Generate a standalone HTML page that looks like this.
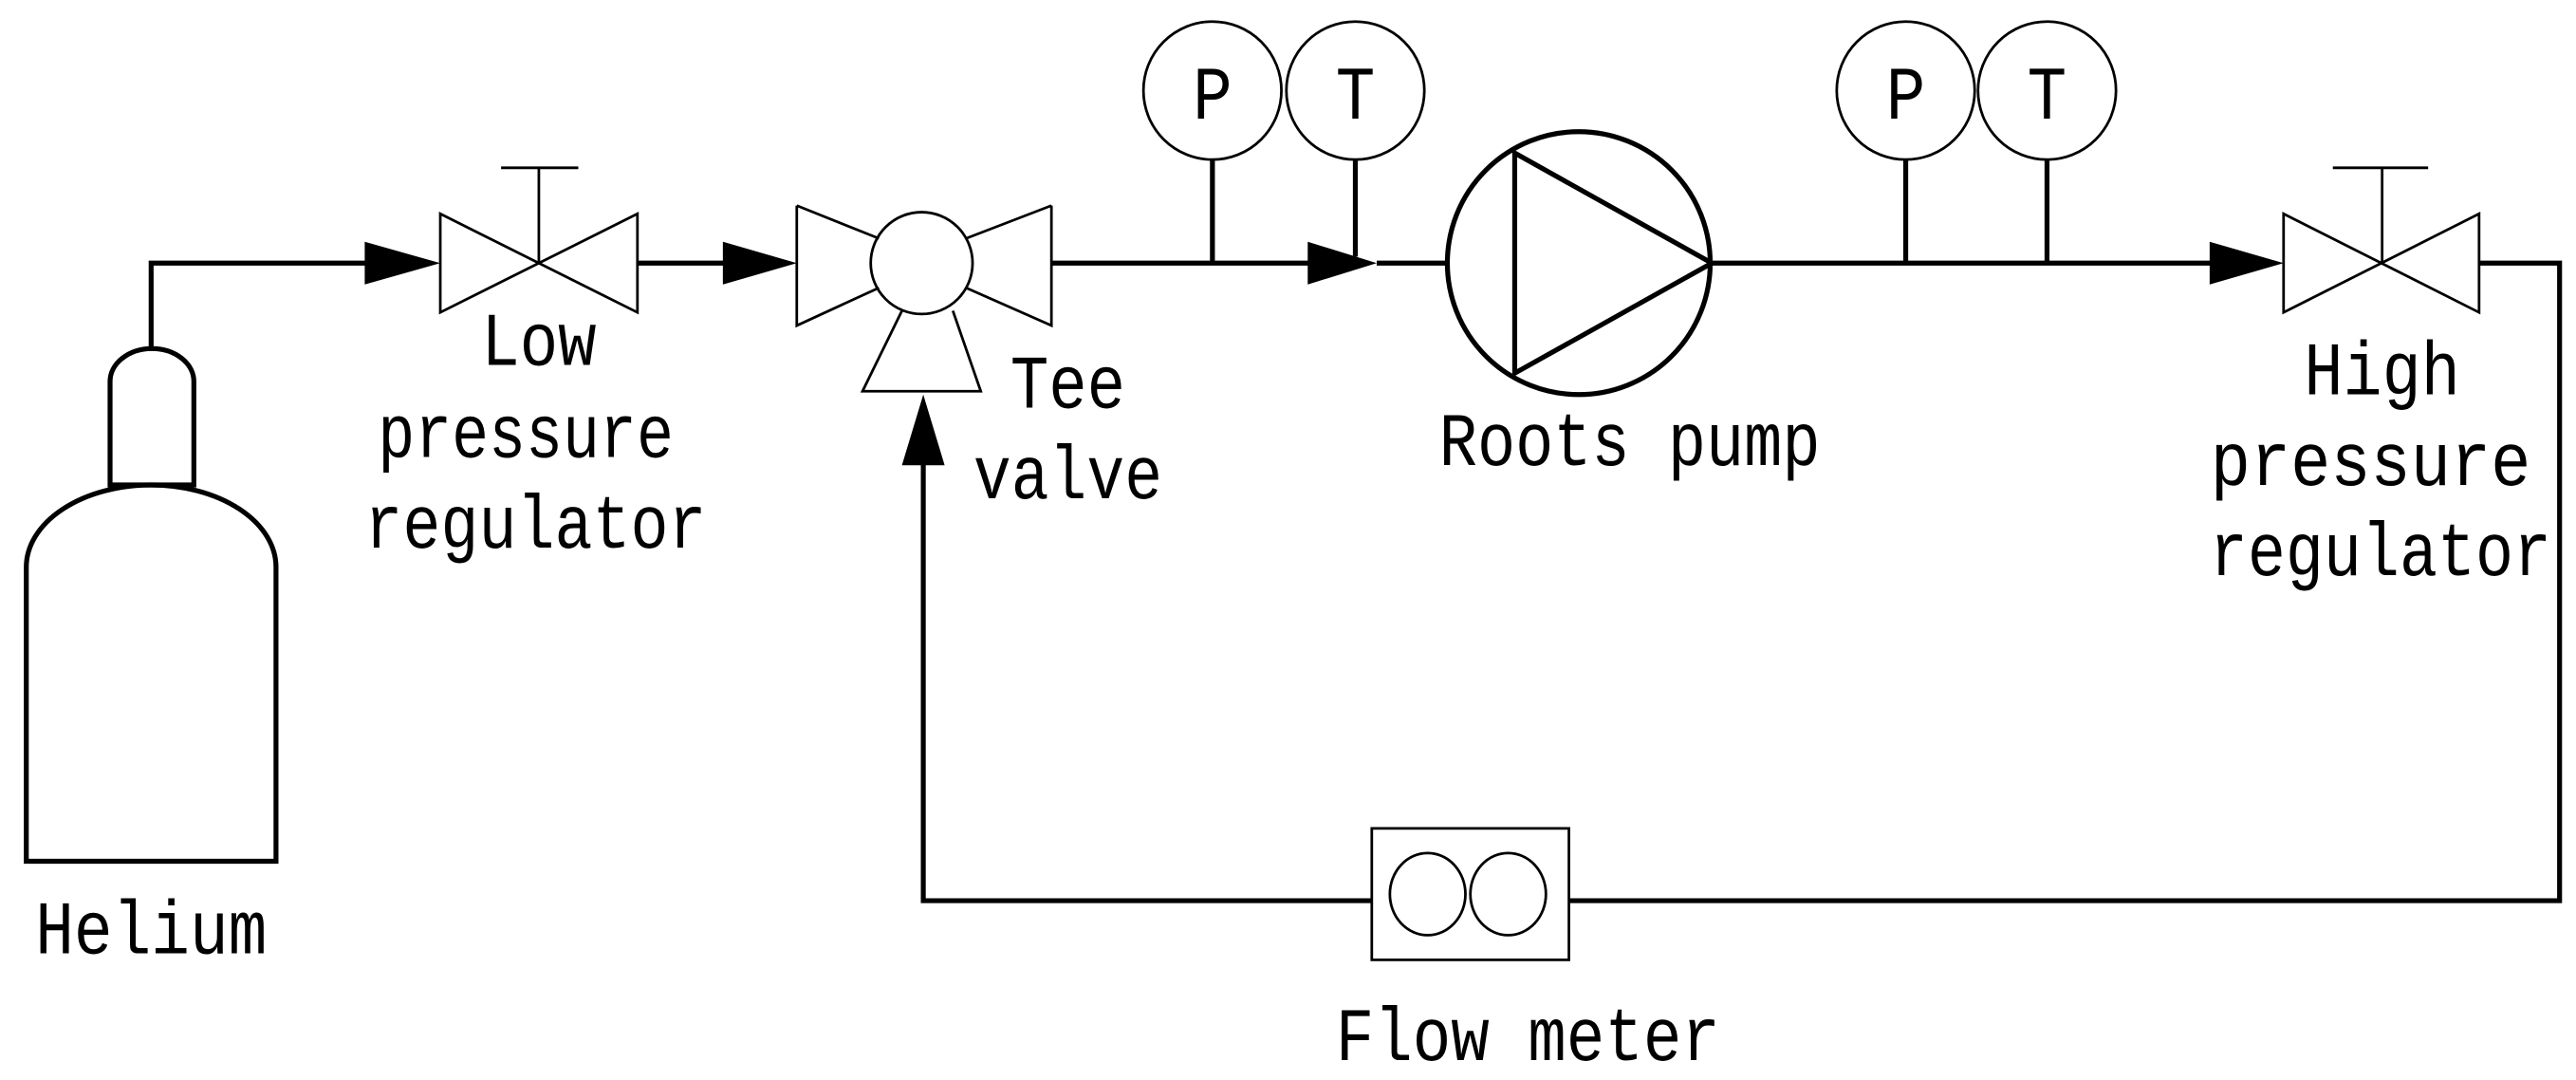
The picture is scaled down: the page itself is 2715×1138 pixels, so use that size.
<!DOCTYPE html>
<html><head><meta charset="utf-8"><style>html,body{margin:0;padding:0;background:#fff}svg{display:block}</style></head>
<body>
<svg width="2715" height="1138" viewBox="0 0 1568 657" xmlns="http://www.w3.org/2000/svg">
<g fill="none" stroke="#000" stroke-width="3">
<path d="M16,524 V345 A76,50 0 0 1 168,345 V524 Z"/>
<path d="M67,295 V232 A25.5,20 0 0 1 118,232 V295 Z"/>
<path d="M92,212 V160 H230"/>
<path d="M388,160 H445"/>
<path d="M640,160 H800"/>
<path d="M838,160 H880"/>
<path d="M1042,160 H1350"/>
<path d="M1509,160 H1558 V548 H955"/>
<path d="M835,548 H562 V280"/>
<path d="M738,97 V160 M825,97 V156 M1160,97 V160 M1246,97 V160"/>
<circle cx="961" cy="160" r="80"/>
<path d="M922,93 V227 L1042,160 Z"/>
</g>
<g fill="#000">
<path d="M222,147 L268,160 L222,173 Z"/>
<path d="M440,147 L485,160 L440,173 Z"/>
<path d="M796,147 L838,160 L796,173 Z"/>
<path d="M1345,147 L1390,160 L1345,173 Z"/>
<path d="M549,283 L562,240 L575,283 Z"/>
</g>
<g fill="none" stroke="#000" stroke-width="1.6">
<path d="M268,130 V190 L388,130 V190 Z"/>
<path d="M328,160 V102 M305,102 H352"/>
<path d="M1390,130 V190 L1509,130 V190 Z"/>
<path d="M1450,160 V102 M1420,102 H1478"/>
<path d="M485,125 V198 L535,175 M535,145 L485,125"/>
<path d="M640,125 V198 L588,175 M588,145 L640,125"/>
<circle cx="561" cy="160" r="31"/>
<path d="M549,189 L525,238 H597 L580,189"/>
<circle cx="738" cy="55" r="42"/><circle cx="825" cy="55" r="42"/>
<circle cx="1160" cy="55" r="42"/><circle cx="1246" cy="55" r="42"/>
<rect x="835" y="504" width="120" height="80"/>
<ellipse cx="869" cy="544" rx="23" ry="25"/><ellipse cx="918" cy="544" rx="23" ry="25"/>
</g>
<g font-family="'Liberation Mono','Noto Sans CJK SC',monospace" font-size="46" fill="#000" text-anchor="middle">
<text x="738" y="72" textLength="24" lengthAdjust="spacingAndGlyphs">P</text><text x="825" y="72" textLength="24" lengthAdjust="spacingAndGlyphs">T</text>
<text x="1160" y="72" textLength="24" lengthAdjust="spacingAndGlyphs">P</text><text x="1246" y="72" textLength="24" lengthAdjust="spacingAndGlyphs">T</text>
<text x="328" y="222" textLength="70" lengthAdjust="spacingAndGlyphs">Low</text>
<text x="320" y="278" textLength="180" lengthAdjust="spacingAndGlyphs">pressure</text>
<text x="326" y="333" textLength="208" lengthAdjust="spacingAndGlyphs">regulator</text>
<text x="650" y="248" textLength="70" lengthAdjust="spacingAndGlyphs">Tee</text>
<text x="650" y="303" textLength="115" lengthAdjust="spacingAndGlyphs">valve</text>
<text x="992" y="283" textLength="232" lengthAdjust="spacingAndGlyphs">Roots pump</text>
<text x="1450" y="240" textLength="95" lengthAdjust="spacingAndGlyphs">High</text>
<text x="1443" y="295" textLength="195" lengthAdjust="spacingAndGlyphs">pressure</text>
<text x="1449" y="350" textLength="208" lengthAdjust="spacingAndGlyphs">regulator</text>
<text x="92" y="580" textLength="141" lengthAdjust="spacingAndGlyphs">Helium</text>
<text x="930" y="645" textLength="234" lengthAdjust="spacingAndGlyphs">Flow meter</text>
</g>
</svg>
</body></html>
